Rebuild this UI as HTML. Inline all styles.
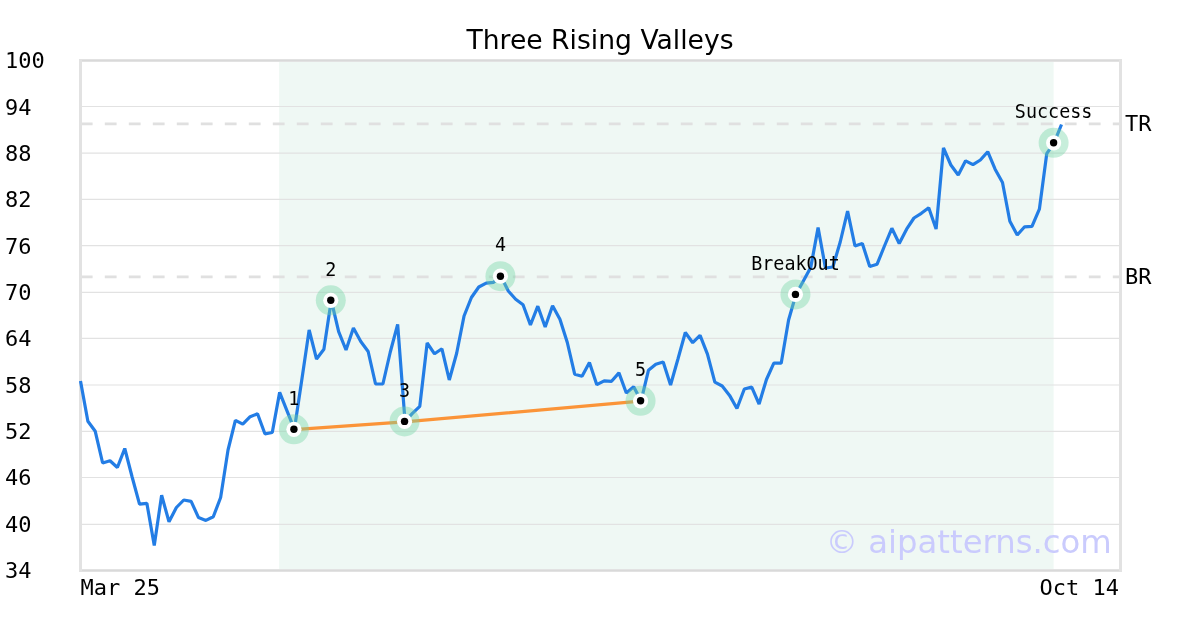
<!DOCTYPE html>
<html><head><meta charset="utf-8"><style>
html,body{margin:0;padding:0;background:#fff;width:1200px;height:630px;overflow:hidden}
svg{display:block}
.m{font-family:"DejaVu Sans Mono","Liberation Mono",monospace}
.s{font-family:"DejaVu Sans","Liberation Sans",sans-serif}
</style></head><body>
<svg width="1200" height="630" viewBox="0 0 1200 630">
<rect width="1200" height="630" fill="#fff"/>

<rect x="279.15" y="60" width="774.47" height="510" fill="#eff8f4"/>
<line x1="80" x2="1120" y1="524.30" y2="524.30" stroke="#e2e2e2" stroke-width="1.2"/>
<line x1="80" x2="1120" y1="477.50" y2="477.50" stroke="#e2e2e2" stroke-width="1.2"/>
<line x1="80" x2="1120" y1="431.30" y2="431.30" stroke="#e2e2e2" stroke-width="1.2"/>
<line x1="80" x2="1120" y1="385.00" y2="385.00" stroke="#e2e2e2" stroke-width="1.2"/>
<line x1="80" x2="1120" y1="338.40" y2="338.40" stroke="#e2e2e2" stroke-width="1.2"/>
<line x1="80" x2="1120" y1="292.30" y2="292.30" stroke="#e2e2e2" stroke-width="1.2"/>
<line x1="80" x2="1120" y1="245.70" y2="245.70" stroke="#e2e2e2" stroke-width="1.2"/>
<line x1="80" x2="1120" y1="199.40" y2="199.40" stroke="#e2e2e2" stroke-width="1.2"/>
<line x1="80" x2="1120" y1="153.20" y2="153.20" stroke="#e2e2e2" stroke-width="1.2"/>
<line x1="80" x2="1120" y1="106.50" y2="106.50" stroke="#e2e2e2" stroke-width="1.2"/>
<line x1="80.8" x2="1120" y1="123.9" y2="123.9" stroke="#e0e0e0" stroke-width="2.8" stroke-dasharray="11.8 12.2"/>
<line x1="80.8" x2="1120" y1="276.9" y2="276.9" stroke="#e0e0e0" stroke-width="2.8" stroke-dasharray="11.8 12.2"/>
<rect x="80.5" y="60.5" width="1040" height="510" fill="none" stroke="#e2e2e2" stroke-width="3"/>
<line x1="82" x2="1119" y1="60.5" y2="60.5" stroke="#d9d9d9" stroke-width="1"/>
<line x1="82" x2="1119" y1="570.5" y2="570.5" stroke="#d9d9d9" stroke-width="1"/>
<polyline points="80.50,381.00 87.88,421.30 95.25,431.30 102.63,463.00 110.00,460.80 117.38,467.50 124.76,448.50 132.13,477.00 139.51,504.20 146.88,503.40 154.26,545.50 161.63,495.30 169.01,521.80 176.39,507.50 183.76,500.00 191.14,501.30 198.51,517.60 205.89,520.40 213.27,516.80 220.64,497.50 228.02,450.00 235.39,420.30 242.77,424.20 250.15,416.70 257.52,413.80 264.90,433.80 272.27,432.50 279.65,392.40 287.02,410.90 294.40,429.30 301.78,380.00 309.15,330.00 316.53,359.00 323.90,349.20 331.28,300.30 338.66,331.70 346.03,350.00 353.41,328.00 360.78,341.50 368.16,351.50 375.54,384.00 382.91,384.00 390.29,352.00 397.66,324.30 405.04,421.40 412.41,413.30 419.79,406.30 427.17,343.00 434.54,353.80 441.92,348.80 449.29,380.00 456.67,353.30 464.05,316.00 471.42,297.50 478.80,287.00 486.17,283.20 493.55,282.30 500.93,276.20 508.30,291.00 515.68,299.20 523.05,304.70 530.43,325.00 537.80,306.20 545.18,327.00 552.56,305.80 559.93,319.20 567.31,342.50 574.68,374.20 582.06,376.30 589.44,362.50 596.81,384.70 604.19,380.80 611.56,381.30 618.94,372.90 626.32,393.00 633.69,386.70 641.07,400.80 648.44,370.30 655.82,364.20 663.20,362.00 670.57,385.00 677.95,359.00 685.32,332.50 692.70,342.70 700.07,335.30 707.45,354.20 714.83,382.20 722.20,386.00 729.58,395.40 736.95,408.50 744.33,389.00 751.71,387.10 759.08,404.00 766.46,379.50 773.83,363.20 781.21,363.20 788.59,320.00 795.96,294.40 803.34,281.00 810.71,267.60 818.09,227.60 825.46,268.00 832.84,267.00 840.22,242.00 847.59,211.20 854.97,246.00 862.34,243.50 869.72,266.50 877.10,264.20 884.47,246.00 891.85,228.30 899.22,243.50 906.60,229.20 913.98,218.00 921.35,213.30 928.73,207.70 936.10,229.00 943.48,148.00 950.85,165.00 958.23,175.00 965.61,160.80 972.98,164.70 980.36,160.00 987.73,151.70 995.11,169.20 1002.49,182.50 1009.86,221.30 1017.24,235.00 1024.61,226.80 1031.99,226.30 1039.37,209.20 1046.74,153.70 1054.12,142.80 1061.49,124.50" fill="none" stroke="#237de5" stroke-width="3.2" stroke-linejoin="bevel" stroke-linecap="butt"/>
<polyline points="293.90,429.70 404.54,421.80 640.57,401.20" fill="none" stroke="#fb9438" stroke-width="3.2" stroke-linejoin="bevel"/>
<circle cx="293.90" cy="429.30" r="15" fill="rgba(116,213,166,0.4)"/>
<circle cx="293.90" cy="429.30" r="7.6" fill="#fff"/>
<circle cx="293.90" cy="429.30" r="3.7" fill="#000"/>
<text class="m" transform="translate(293.90,404.50) scale(1,1.07)" font-size="18.4" text-anchor="middle">1</text>
<circle cx="330.78" cy="300.30" r="15" fill="rgba(116,213,166,0.4)"/>
<circle cx="330.78" cy="300.30" r="7.6" fill="#fff"/>
<circle cx="330.78" cy="300.30" r="3.7" fill="#000"/>
<text class="m" transform="translate(330.78,275.50) scale(1,1.07)" font-size="18.4" text-anchor="middle">2</text>
<circle cx="404.54" cy="421.40" r="15" fill="rgba(116,213,166,0.4)"/>
<circle cx="404.54" cy="421.40" r="7.6" fill="#fff"/>
<circle cx="404.54" cy="421.40" r="3.7" fill="#000"/>
<text class="m" transform="translate(404.54,396.60) scale(1,1.07)" font-size="18.4" text-anchor="middle">3</text>
<circle cx="500.43" cy="276.20" r="15" fill="rgba(116,213,166,0.4)"/>
<circle cx="500.43" cy="276.20" r="7.6" fill="#fff"/>
<circle cx="500.43" cy="276.20" r="3.7" fill="#000"/>
<text class="m" transform="translate(500.43,251.40) scale(1,1.07)" font-size="18.4" text-anchor="middle">4</text>
<circle cx="640.57" cy="400.80" r="15" fill="rgba(116,213,166,0.4)"/>
<circle cx="640.57" cy="400.80" r="7.6" fill="#fff"/>
<circle cx="640.57" cy="400.80" r="3.7" fill="#000"/>
<text class="m" transform="translate(640.57,376.00) scale(1,1.07)" font-size="18.4" text-anchor="middle">5</text>
<circle cx="795.46" cy="294.40" r="15" fill="rgba(116,213,166,0.4)"/>
<circle cx="795.46" cy="294.40" r="7.6" fill="#fff"/>
<circle cx="795.46" cy="294.40" r="3.7" fill="#000"/>
<text class="m" transform="translate(795.46,269.60) scale(1,1.07)" font-size="18.4" text-anchor="middle">BreakOut</text>
<circle cx="1053.62" cy="142.80" r="15" fill="rgba(116,213,166,0.4)"/>
<circle cx="1053.62" cy="142.80" r="7.6" fill="#fff"/>
<circle cx="1053.62" cy="142.80" r="3.7" fill="#000"/>
<text class="m" transform="translate(1053.62,118.00) scale(1,1.07)" font-size="18.4" text-anchor="middle">Success</text>
<text class="m" x="5" y="578.20" font-size="22">34</text>
<text class="m" x="5" y="531.83" font-size="22">40</text>
<text class="m" x="5" y="485.46" font-size="22">46</text>
<text class="m" x="5" y="439.09" font-size="22">52</text>
<text class="m" x="5" y="392.73" font-size="22">58</text>
<text class="m" x="5" y="346.36" font-size="22">64</text>
<text class="m" x="5" y="299.99" font-size="22">70</text>
<text class="m" x="5" y="253.62" font-size="22">76</text>
<text class="m" x="5" y="207.25" font-size="22">82</text>
<text class="m" x="5" y="160.89" font-size="22">88</text>
<text class="m" x="5" y="114.52" font-size="22">94</text>
<text class="m" x="5" y="68.15" font-size="22">100</text>
<text class="m" x="80.5" y="595" font-size="22">Mar 25</text>
<text class="m" x="1119" y="595" font-size="22" text-anchor="end">Oct 14</text>
<text class="m" x="1125" y="130.70" font-size="22">TR</text>
<text class="m" x="1125" y="283.70" font-size="22">BR</text>
<text class="s" x="600" y="48.6" font-size="26.6" text-anchor="middle">Three Rising Valleys</text>
<text class="s" x="1111.8" y="552.6" font-size="32.3" text-anchor="end" fill="#cacbfd">© aipatterns.com</text>
</svg></body></html>
